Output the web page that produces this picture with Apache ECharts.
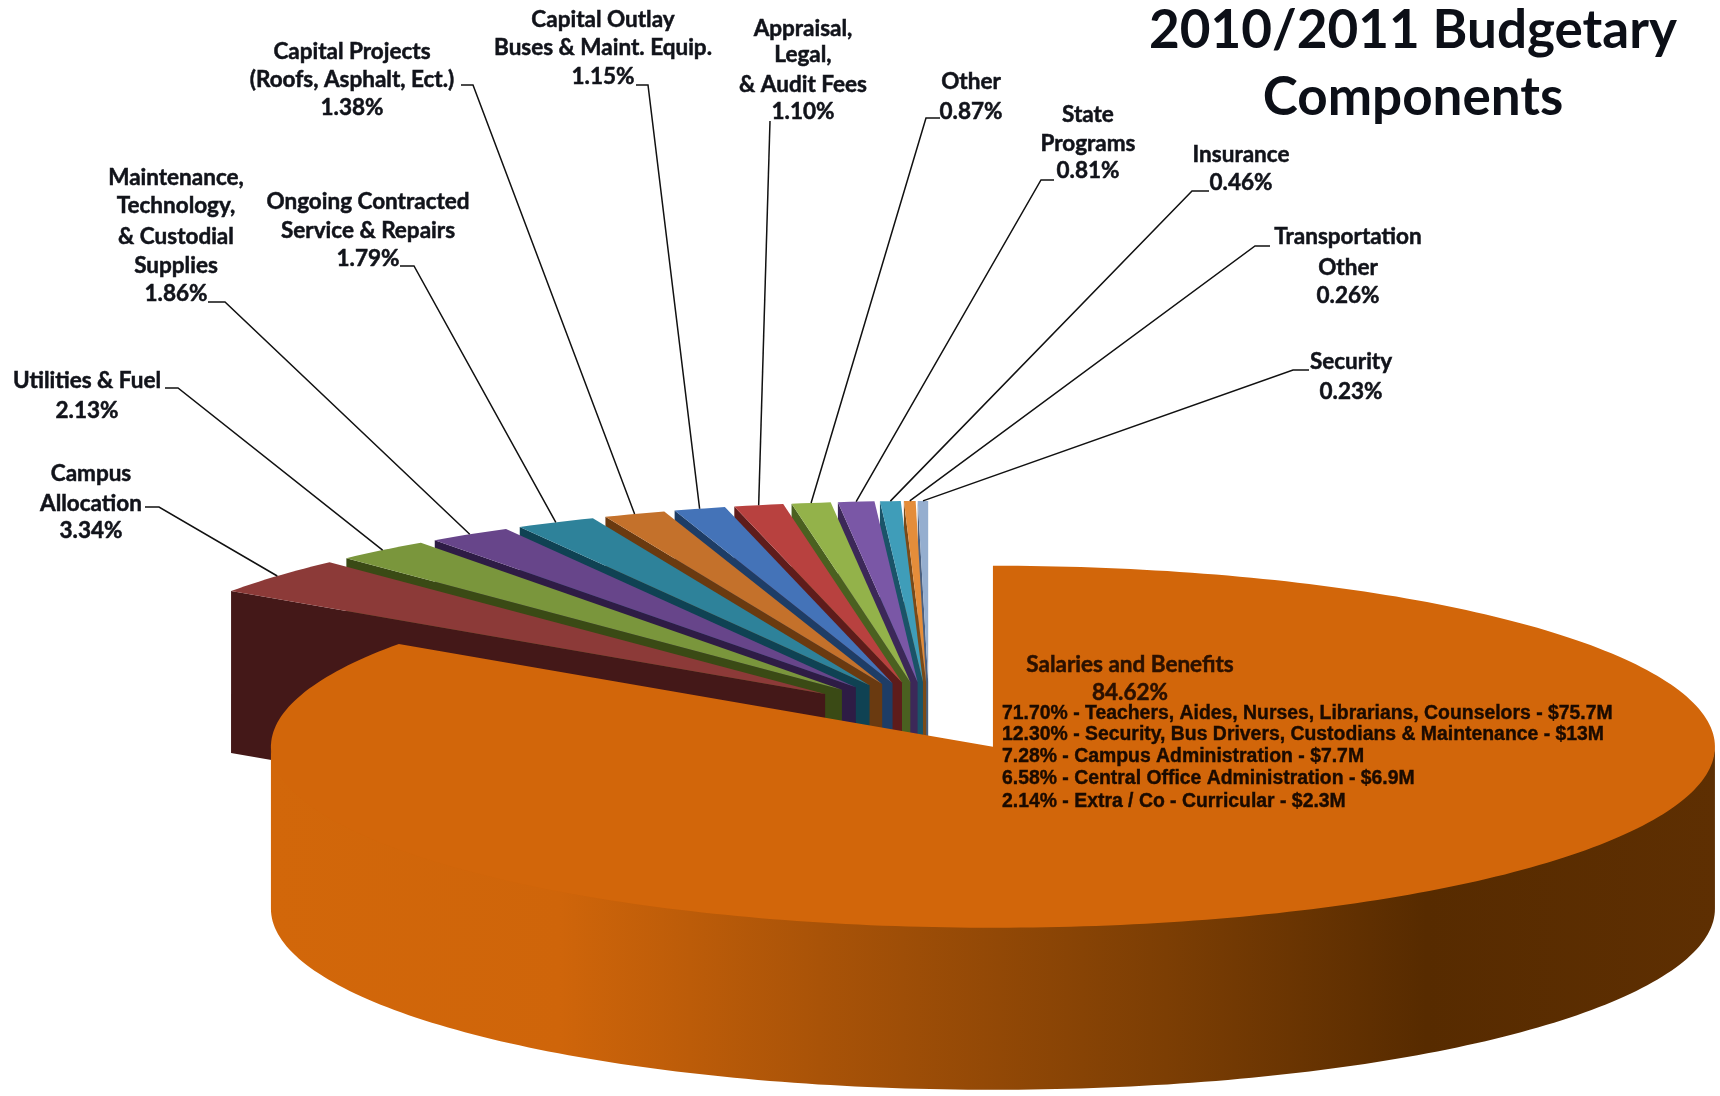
<!DOCTYPE html>
<html>
<head>
<meta charset="utf-8">
<style>html,body{margin:0;padding:0;background:#fff}#c{width:1720px;height:1096px}</style>
<script src="https://cdn.jsdelivr.net/npm/echarts@6/dist/echarts.min.js"></script>
</head>
<body>
<div id="c"></div>
<script>
// ---- data ----
const titleText = '2010/2011 Budgetary\nComponents';
const sliceNames = ['Salaries and Benefits','Campus Allocation','Utilities & Fuel','Maintenance, Technology, & Custodial Supplies','Ongoing Contracted Service & Repairs','Capital Projects','Capital Outlay','Appraisal, Legal, & Audit Fees','Other','State Programs','Insurance','Transportation Other','Security'];
const sliceShares = [84.62,3.34,2.13,1.86,1.79,1.38,1.15,1.10,0.87,0.81,0.46,0.26,0.23];
const labelLines = [
  ['Salaries and Benefits','84.62%'],
  ['Campus','Allocation','3.34%'],
  ['Utilities & Fuel','2.13%'],
  ['Maintenance,','Technology,','& Custodial','Supplies','1.86%'],
  ['Ongoing Contracted','Service & Repairs','1.79%'],
  ['Capital Projects','(Roofs, Asphalt, Ect.)','1.38%'],
  ['Capital Outlay','Buses & Maint. Equip.','1.15%'],
  ['Appraisal,','Legal,','& Audit Fees','1.10%'],
  ['Other','0.87%'],
  ['State','Programs','0.81%'],
  ['Insurance','0.46%'],
  ['Transportation','Other','0.26%'],
  ['Security','0.23%']
];
const salaryBreakdown = [
  '71.70% - Teachers, Aides, Nurses, Librarians, Counselors - $75.7M',
  '12.30% - Security, Bus Drivers, Custodians & Maintenance - $13M',
  '7.28% - Campus Administration - $7.7M',
  '6.58% - Central Office Administration - $6.9M',
  '2.14% - Extra / Co - Curricular - $2.3M'
];

// ---- styling and layout ----
const topColors = ['#D2660A','#8C3A38','#7A963C','#67458A','#2E829A','#C4712B','#4473B8','#B8413F','#93B24A','#7A57A6','#3F9DB9','#E48D3A','#95AECF'];
const wallColors = ['#572B00','#441818','#3A4A15','#2E1C45','#0F4253','#6A3A10','#1E3D66','#5E1C1B','#4A6020','#3C2858','#1A5368','#7A4A18','#4A6080'];
const pie = {cx:929.2, cy:716.3, rx:722, ry:181, depth:162, explode:0.19};
const labelFont = 'bold 22.5px Lato';
const labelColor = '#11131a';
// x: centre of text; ys: middle of each line; lead: [end next to text, bend x, y]
const labelLayout = [
  {x:1130, ys:[665,693]},
  {x:91,  ys:[474,504,531], lead:[145,159,507]},
  {x:87,  ys:[381,411],     lead:[165,178,388]},
  {x:176, ys:[178,206,237,266,294], lead:[208,225,302]},
  {x:368, ys:[202,231,259], lead:[400,414,266]},
  {x:352, ys:[52,80,108],   lead:[461,473,85]},
  {x:603, ys:[20,48,77],    lead:[636,648,85]},
  {x:803, ys:[29,55,85,112],lead:[770,770,121]},
  {x:971, ys:[82,112],      lead:[940,926,118]},
  {x:1088,ys:[115,144,171], lead:[1054,1041,180]},
  {x:1241,ys:[155,183],     lead:[1209,1192,191]},
  {x:1348,ys:[237,268,296], lead:[1270,1255,246]},
  {x:1351,ys:[362,392],     lead:[1309,1293,370]}
];
const breakdownLayout = {x:1002, ys:[714,735,757,779,802], font:'bold 19.4px "Liberation Sans"', color:'#1a0a00'};
const wallGradient = [[0,'#D2670A'],[0.2,'#CF650A'],[0.38,'#A95308'],[0.62,'#7C3E04'],[0.8,'#572B00'],[1,'#5E2F02']];

// ---- geometry, from the values ----
const total = sliceShares.reduce((a,b)=>a+b,0);
const rad = d => d*Math.PI/180;
const sliceAngles = [];
(function(){ let a = 90; sliceShares.forEach(s => { const b = a - s/total*360; sliceAngles.push([a,b]); a = b; }); })();

// back-to-front: rightmost small slice first, the big slice last
const drawOrder = sliceNames.map((_,i)=>i).slice(1).reverse().concat([0]);

function renderSlice(params){
  const i = drawOrder[params.dataIndex];
  const [a0,a1] = sliceAngles[i];
  const mid = (a0+a1)/2;
  const ax = pie.cx + pie.explode*pie.rx*Math.cos(rad(mid));
  const ay = pie.cy - pie.explode*pie.ry*Math.sin(rad(mid));
  const rim = a => [ax + pie.rx*Math.cos(rad(a)), ay - pie.ry*Math.sin(rad(a))];
  const down = p => [p[0], p[1]+pie.depth];
  const arc = (from,to) => { const n = Math.max(2,Math.ceil(Math.abs(from-to))); const o=[]; for(let k=0;k<=n;k++) o.push(rim(from+(to-from)*k/n)); return o; };
  const children = [];
  if (i === 0) {
    // visible outer wall: front half of the rim, tucked slightly under the top face
    const front = arc(0,-180);
    children.push({type:'polygon', shape:{points: front.map(p=>[p[0],p[1]-3]).concat(front.slice().reverse().map(down))},
      style:{fill:{type:'linear',x:0,y:0,x2:1,y2:0,colorStops:wallGradient.map(s=>({offset:s[0],color:s[1]}))}}});
  } else {
    // visible radial wall under the left edge
    const e = rim(a0);
    children.push({type:'polygon', shape:{points:[[ax,ay],e,down(e),down([ax,ay])]}, style:{fill:wallColors[i]}});
  }
  children.push({type:'polygon', shape:{points:[[ax,ay]].concat(arc(a0,a1))}, style:{fill:topColors[i]}});

  const L = labelLayout[i];
  if (L.lead) {
    const r = rim(mid);
    children.push({type:'polyline', shape:{points:[[L.lead[0],L.lead[2]],[L.lead[1],L.lead[2]],r]}, style:{stroke:'#111',lineWidth:1.5,fill:'none'}});
  }
  const fill = i===0 ? '#2a1000' : labelColor;
  labelLines[i].forEach((t,k) => children.push({type:'text', style:{text:t, x:L.x, y:L.ys[k], font:labelFont, fill:fill, stroke:fill, lineWidth:0.5, align:'center', verticalAlign:'middle'}}));
  if (i===0) salaryBreakdown.forEach((t,k) => children.push({type:'text', style:{text:t, x:breakdownLayout.x, y:breakdownLayout.ys[k], font:breakdownLayout.font, fill:breakdownLayout.color, stroke:breakdownLayout.color, lineWidth:0.4, align:'left', verticalAlign:'middle'}}));
  return {type:'group', children};
}

const chart = echarts.init(document.getElementById('c'), null, {renderer:'canvas', width:1720, height:1096});
chart.setOption({
  animation:false,
  backgroundColor:'#fff',
  title:{text:titleText, left:1408, top:-8, textAlign:'center', textStyle:{fontFamily:'Lato', fontWeight:'bold', fontSize:53, lineHeight:67, color:'#0c0f17'}},
  series:[{
    type:'custom', coordinateSystem:'none', silent:true, renderItem:renderSlice,
    data: drawOrder.map(i => ({name:sliceNames[i], value:sliceShares[i]}))
  }]
});
</script>
</body>
</html>
